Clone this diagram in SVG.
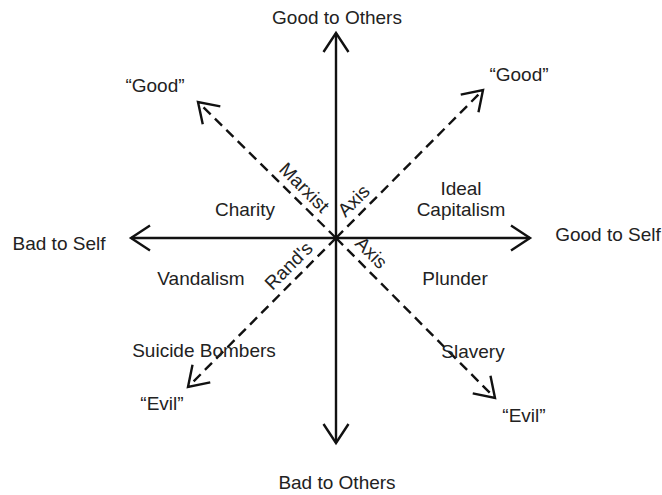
<svg xmlns="http://www.w3.org/2000/svg" width="662" height="495" viewBox="0 0 662 495">
<style>
text{font-family:"Liberation Sans",Arial,sans-serif;font-size:19px;fill:#222;text-anchor:middle}
.axis{stroke:#111;stroke-width:2.4;fill:none}
.diag{stroke:#111;stroke-width:2.4;fill:none;stroke-dasharray:10 6}
</style>
<defs>
<marker id="arr" markerUnits="userSpaceOnUse" viewBox="-25 -15 30 30" markerWidth="30" markerHeight="30" refX="0" refY="0" orient="auto">
<path d="M-19,-12.5 L0,0 L-19,12.5" fill="none" stroke="#111" stroke-width="2.4"/>
</marker>
</defs>
<rect width="662" height="495" fill="#fff"/>
<g id="connectors">
<line class="axis" x1="336" y1="238" x2="336" y2="33" marker-end="url(#arr)"/>
<line class="axis" x1="336" y1="238" x2="336" y2="443" marker-end="url(#arr)"/>
<line class="axis" x1="336" y1="238" x2="131" y2="238" marker-end="url(#arr)"/>
<line class="axis" x1="336" y1="238" x2="530" y2="238" marker-end="url(#arr)"/>
<line class="diag" x1="336" y1="238" x2="198" y2="102" marker-end="url(#arr)"/>
<line class="diag" x1="336" y1="238" x2="483" y2="90" marker-end="url(#arr)"/>
<line class="diag" x1="336" y1="238" x2="188" y2="387" marker-end="url(#arr)"/>
<line class="diag" x1="336" y1="238" x2="495" y2="398" marker-end="url(#arr)"/>
</g>
<g id="good-to-others"><text x="337" y="24">Good to Others</text></g>
<g id="bad-to-others"><text x="337" y="489">Bad to Others</text></g>
<g id="bad-to-self"><text x="59" y="250">Bad to Self</text></g>
<g id="good-to-self"><text x="608" y="241">Good to Self</text></g>
<g id="good-left"><text x="155" y="92">“Good”</text></g>
<g id="good-right"><text x="519" y="81">“Good”</text></g>
<g id="evil-left"><text x="162" y="410">“Evil”</text></g>
<g id="evil-right"><text x="524" y="422">“Evil”</text></g>
<g id="charity"><text x="245" y="216">Charity</text></g>
<g id="ideal-capitalism"><text x="461" y="195">Ideal</text><text x="461" y="216">Capitalism</text></g>
<g id="vandalism"><text x="201" y="285">Vandalism</text></g>
<g id="plunder"><text x="455" y="285">Plunder</text></g>
<g id="suicide-bombers"><text x="204" y="357">Suicide Bombers</text></g>
<g id="slavery"><text x="473" y="358">Slavery</text></g>
<g id="marxist-axis">
<text transform="translate(304,188) rotate(45)" y="6">Marxist</text>
<text transform="translate(354,201) rotate(-45)" y="6">Axis</text>
</g>
<g id="rands-axis">
<text transform="translate(289,266) rotate(-45)" y="6">Rand's</text>
<text transform="translate(371,253) rotate(45)" y="6">Axis</text>
</g>
</svg>
